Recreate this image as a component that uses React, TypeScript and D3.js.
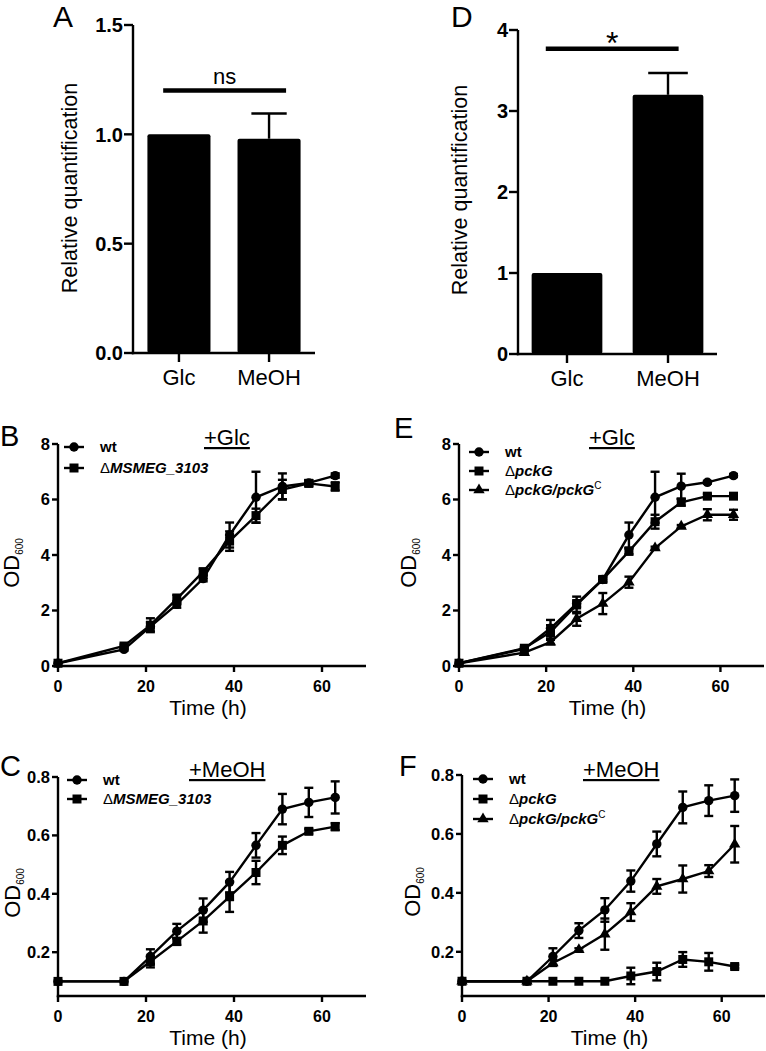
import React from 'react';
import * as d3 from 'd3';

const FONT = "'Liberation Sans', Arial, Helvetica, sans-serif";

// ---------- bar panels ----------
const BAR_CATEGORIES = ['Glc', 'MeOH'];
const A_VALUES = [1.0, 0.98];
const A_ERRORS = [0, 0.115];
const A_TICKS = [0, 0.5, 1.0, 1.5];
const A_SIG_LEVEL = 1.2;
const A_SIG_TEXT = 'ns';

const D_VALUES = [1.0, 3.2];
const D_ERRORS = [0, 0.27];
const D_TICKS = [0, 1, 2, 3, 4];
const D_SIG_LEVEL = 3.77;
const D_SIG_TEXT = '*';

// ---------- growth curves ----------
const TIME = [0, 15, 21, 27, 33, 39, 45, 51, 57, 63];
const TIME_TICKS = [0, 20, 40, 60];
const GLC_TICKS = [0, 2, 4, 6, 8];
const MEOH_TICKS = [0.2, 0.4, 0.6, 0.8];

// B: +Glc, wt vs ΔMSMEG_3103
const B_WT = [0.1, 0.6, 1.42, 2.22, 3.15, 4.72, 6.08, 6.47, 6.6, 6.86];
const B_WT_ERR = [0, 0.05, 0.15, 0.12, 0.1, 0.45, 0.92, 0.47, 0.1, 0.08];
const B_MUT = [0.1, 0.72, 1.47, 2.42, 3.4, 4.5, 5.42, 6.36, 6.58, 6.47];
const B_MUT_ERR = [0, 0.05, 0.25, 0.15, 0.1, 0.35, 0.25, 0.35, 0.1, 0.15];

// C: +MeOH, wt vs ΔMSMEG_3103
const C_WT = [0.1, 0.1, 0.185, 0.272, 0.344, 0.44, 0.566, 0.69, 0.713, 0.73];
const C_WT_ERR = [0, 0, 0.025, 0.025, 0.04, 0.035, 0.042, 0.052, 0.05, 0.055];
const C_MUT = [0.1, 0.1, 0.168, 0.237, 0.307, 0.39, 0.473, 0.566, 0.614, 0.63];
const C_MUT_ERR = [0, 0, 0.02, 0.012, 0.04, 0.052, 0.04, 0.03, 0.008, 0.012];

// E: +Glc, wt / ΔpckG / ΔpckG/pckGC
const E_WT = [0.1, 0.62, 1.36, 2.25, 3.12, 4.72, 6.08, 6.48, 6.62, 6.86];
const E_WT_ERR = [0, 0.05, 0.3, 0.12, 0.1, 0.45, 0.92, 0.45, 0.05, 0.05];
const E_PCK = [0.1, 0.64, 1.22, 2.2, 3.12, 4.13, 5.2, 5.9, 6.12, 6.12];
const E_PCK_ERR = [0, 0.05, 0.25, 0.3, 0.08, 0.1, 0.25, 0.12, 0.08, 0.08];
const E_COMP = [0.1, 0.48, 0.86, 1.7, 2.25, 3.02, 4.25, 5.03, 5.45, 5.45];
const E_COMP_ERR = [0, 0.05, 0.08, 0.25, 0.38, 0.2, 0.05, 0.05, 0.2, 0.18];

// F: +MeOH, wt / ΔpckG / ΔpckG/pckGC
const F_WT = [0.1, 0.1, 0.184, 0.272, 0.342, 0.44, 0.566, 0.69, 0.713, 0.73];
const F_WT_ERR = [0, 0, 0.028, 0.025, 0.04, 0.036, 0.042, 0.054, 0.052, 0.055];
const F_PCK = [0.1, 0.1, 0.1, 0.1, 0.1, 0.118, 0.133, 0.174, 0.166, 0.15];
const F_PCK_ERR = [0, 0, 0, 0, 0, 0.028, 0.03, 0.025, 0.03, 0.006];
const F_COMP = [0.1, 0.1, 0.162, 0.207, 0.26, 0.335, 0.422, 0.447, 0.474, 0.565];
const F_COMP_ERR = [0, 0, 0.01, 0.005, 0.053, 0.03, 0.025, 0.046, 0.02, 0.062];

const LABEL_WT = { delta: false, name: 'wt', italic: false, sup: '' };
const LABEL_MSMEG = { delta: true, name: 'MSMEG_3103', italic: true, sup: '' };
const LABEL_PCK = { delta: true, name: 'pckG', italic: true, sup: '' };
const LABEL_COMP = { delta: true, name: 'pckG/pckG', italic: true, sup: 'C' };

const SHAPES: Record<string, { type: any; size: number }> = {
  circle: { type: d3.symbolCircle, size: 70 },
  square: { type: d3.symbolSquare, size: 81 },
  triangle: { type: d3.symbolTriangle, size: 56 },
};

const SW = 2.4;

function BarPanel(props: any) {
  const { xRange, yRange, yDomain, ticks, fmt, values, errors, outer, sigLevel, sigText, sigFrac, sigFont, sigDy, letter, letterPos, yLabelPos } = props;
  const x = d3.scaleBand().domain(BAR_CATEGORIES).range(xRange).paddingInner(0.3).paddingOuter(outer);
  const y = d3.scaleLinear().domain(yDomain).range(yRange);
  const bw = x.bandwidth();
  const x0 = xRange[0];
  const y0 = y(0);
  const sx1 = (x(BAR_CATEGORIES[0]) as number) + bw * sigFrac[0];
  const sx2 = (x(BAR_CATEGORIES[1]) as number) + bw * sigFrac[1];
  return (
    <g>
      <text x={letterPos[0]} y={letterPos[1]} fontSize={30} fontFamily={FONT}>{letter}</text>
      {BAR_CATEGORIES.map((c, i) => {
        const bx = x(c) as number;
        const cx = bx + bw / 2;
        return (
          <g key={c}>
            <rect x={bx} y={y(values[i])} width={bw} height={y0 - y(values[i])} fill="#000" rx={2} />
            {errors[i] > 0 && (
              <g stroke="#000" strokeWidth={SW}>
                <line x1={cx} x2={cx} y1={y(values[i])} y2={y(values[i] + errors[i])} />
                <line x1={cx - bw * 0.28} x2={cx + bw * 0.28} y1={y(values[i] + errors[i])} y2={y(values[i] + errors[i])} />
              </g>
            )}
            <line x1={cx} x2={cx} y1={y0} y2={y0 + 9} stroke="#000" strokeWidth={SW} />
            <text x={cx} y={y0 + 32} textAnchor="middle" fontSize={22} fontFamily={FONT}>{c}</text>
          </g>
        );
      })}
      <line x1={x0} x2={x0} y1={y(yDomain[1])} y2={y0 + SW / 2} stroke="#000" strokeWidth={SW} />
      <line x1={x0 - SW / 2} x2={xRange[1]} y1={y0} y2={y0} stroke="#000" strokeWidth={SW} />
      {ticks.map((t: number) => (
        <g key={t}>
          <line x1={x0 - 9} x2={x0} y1={y(t)} y2={y(t)} stroke="#000" strokeWidth={SW} />
          <text x={x0 - 10} y={y(t)} dy="0.36em" textAnchor="end" fontSize={20} fontWeight="bold" fontFamily={FONT}>{fmt(t)}</text>
        </g>
      ))}
      <text transform={`translate(${yLabelPos[0]},${yLabelPos[1]}) rotate(-90)`} textAnchor="middle" fontSize={21.5} fontFamily={FONT}>Relative quantification</text>
      <line x1={sx1} x2={sx2} y1={y(sigLevel)} y2={y(sigLevel)} stroke="#000" strokeWidth={4.5} />
      <text x={(sx1 + sx2) / 2} y={y(sigLevel) + sigDy} textAnchor="middle" fontSize={sigFont} fontFamily={FONT}>{sigText}</text>
    </g>
  );
}

function LegendLabel({ label }: any) {
  return (
    <>
      {label.delta && <tspan fontWeight="normal" fontStyle="normal">Δ</tspan>}
      <tspan fontWeight="bold" fontStyle={label.italic ? 'italic' : 'normal'}>{label.name}</tspan>
      {label.sup && <tspan fontSize={10} dy={-6} fontWeight="normal">{label.sup}</tspan>}
    </>
  );
}

function LinePanel(props: any) {
  const { xRange, yRange, yDomain, yTicks, yFmt, series, legendX, legendRows, title, titlePos, letter, letterPos, odPos } = props;
  const x = d3.scaleLinear().domain([0, 70]).range(xRange);
  const y = d3.scaleLinear().domain(yDomain).range(yRange);
  const x0 = xRange[0];
  const yb = yRange[0];
  const line = d3.line<number>().x((_, i) => x(TIME[i])).y((d) => y(d));
  const sym = (shape: string) => d3.symbol().type(SHAPES[shape].type).size(SHAPES[shape].size)() as string;
  return (
    <g>
      <text x={letterPos[0]} y={letterPos[1]} fontSize={29} fontFamily={FONT}>{letter}</text>
      <text x={titlePos[0]} y={titlePos[1]} fontSize={22} fontFamily={FONT} style={{ textDecoration: 'underline' }}>{title}</text>
      {/* axes */}
      <line x1={x0} x2={x0} y1={y(yDomain[1])} y2={yb + SW / 2} stroke="#000" strokeWidth={SW} />
      <line x1={x0 - SW / 2} x2={xRange[1]} y1={yb} y2={yb} stroke="#000" strokeWidth={SW} />
      {yTicks.map((t: number) => (
        <g key={t}>
          <line x1={x0 - 6} x2={x0} y1={y(t)} y2={y(t)} stroke="#000" strokeWidth={SW} />
          <text x={x0 - 8} y={y(t)} dy="0.36em" textAnchor="end" fontSize={16.5} fontWeight="bold" fontFamily={FONT}>{yFmt(t)}</text>
        </g>
      ))}
      {TIME_TICKS.map((t) => (
        <g key={t}>
          <line x1={x(t)} x2={x(t)} y1={yb} y2={yb + 6} stroke="#000" strokeWidth={SW} />
          <text x={x(t)} y={yb + 26} textAnchor="middle" fontSize={16} fontWeight="bold" fontFamily={FONT}>{t}</text>
        </g>
      ))}
      <text x={(xRange[0] + xRange[1]) / 2 - 4} y={yb + 49} textAnchor="middle" fontSize={21} fontFamily={FONT}>Time (h)</text>
      <text transform={`translate(${odPos[0]},${odPos[1]}) rotate(-90)`} textAnchor="middle" fontSize={22} fontFamily={FONT}>
        OD<tspan fontSize={10} dy={4}>600</tspan>
      </text>
      {/* data */}
      {series.map((s: any, k: number) => (
        <path key={'l' + k} d={line(s.values) as string} fill="none" stroke="#000" strokeWidth={SW} />
      ))}
      {series.map((s: any, k: number) => (
        <g key={'e' + k} stroke="#000" strokeWidth={SW}>
          {s.values.map((v: number, i: number) => s.errors[i] > 0 ? (
            <g key={i}>
              <line x1={x(TIME[i])} x2={x(TIME[i])} y1={y(v - s.errors[i])} y2={y(v + s.errors[i])} />
              <line x1={x(TIME[i]) - 4.5} x2={x(TIME[i]) + 4.5} y1={y(v + s.errors[i])} y2={y(v + s.errors[i])} />
              <line x1={x(TIME[i]) - 4.5} x2={x(TIME[i]) + 4.5} y1={y(v - s.errors[i])} y2={y(v - s.errors[i])} />
            </g>
          ) : null)}
        </g>
      ))}
      {series.map((s: any, k: number) => (
        <g key={'m' + k}>
          {s.values.map((v: number, i: number) => (
            <path key={i} d={sym(s.shape)} transform={`translate(${x(TIME[i])},${y(v)})`} fill="#000" />
          ))}
        </g>
      ))}
      {/* legend */}
      {series.map((s: any, k: number) => (
        <g key={'g' + k}>
          <line x1={legendX - 10} x2={legendX + 10} y1={legendRows[k]} y2={legendRows[k]} stroke="#000" strokeWidth={SW} />
          <path d={sym(s.shape)} transform={`translate(${legendX},${legendRows[k]})`} fill="#000" />
          <text x={legendX + 26} y={legendRows[k]} dy="0.36em" fontSize={15} fontFamily={FONT}>
            <LegendLabel label={s.label} />
          </text>
        </g>
      ))}
    </g>
  );
}

export default function App() {
  const f1 = d3.format('.1f');
  const f0 = d3.format('d');
  return (
    <svg width={766} height={1051} style={{ position: 'absolute', left: 0, top: 0, background: '#fff' }}>
      <rect width={766} height={1051} fill="#fff" />
      <BarPanel xRange={[133, 315]} yRange={[353, 25]} yDomain={[0, 1.5]} ticks={A_TICKS} fmt={f1}
        values={A_VALUES} errors={A_ERRORS} outer={0.16} sigLevel={A_SIG_LEVEL} sigText={A_SIG_TEXT}
        sigFrac={[0.25, 0.77]} sigFont={22} sigDy={-7} letter="A" letterPos={[53, 27]} yLabelPos={[77, 188]} />
      <BarPanel xRange={[518, 717]} yRange={[354, 30]} yDomain={[0, 4]} ticks={D_TICKS} fmt={f0}
        values={D_VALUES} errors={D_ERRORS} outer={0.135} sigLevel={D_SIG_LEVEL} sigText={D_SIG_TEXT}
        sigFrac={[0.2, 0.65]} sigFont={32} sigDy={5} letter="D" letterPos={[451, 27]} yLabelPos={[467, 190]} />
      <LinePanel xRange={[58, 366]} yRange={[666, 444]} yDomain={[0, 8]} yTicks={GLC_TICKS} yFmt={f0}
        series={[
          { values: B_WT, errors: B_WT_ERR, shape: 'circle', label: LABEL_WT },
          { values: B_MUT, errors: B_MUT_ERR, shape: 'square', label: LABEL_MSMEG },
        ]}
        legendX={74} legendRows={[447, 468]} title="+Glc" titlePos={[204, 445]} letter="B" letterPos={[0, 446]} odPos={[19, 563]} />
      <LinePanel xRange={[459, 764]} yRange={[666, 444]} yDomain={[0, 8]} yTicks={GLC_TICKS} yFmt={f0}
        series={[
          { values: E_WT, errors: E_WT_ERR, shape: 'circle', label: LABEL_WT },
          { values: E_PCK, errors: E_PCK_ERR, shape: 'square', label: LABEL_PCK },
          { values: E_COMP, errors: E_COMP_ERR, shape: 'triangle', label: LABEL_COMP },
        ]}
        legendX={479} legendRows={[452, 471, 490]} title="+Glc" titlePos={[589, 445]} letter="E" letterPos={[394, 438]} odPos={[416, 563]} />
      <LinePanel xRange={[58, 366]} yRange={[996, 777]} yDomain={[0.05, 0.8]} yTicks={MEOH_TICKS} yFmt={f1}
        series={[
          { values: C_WT, errors: C_WT_ERR, shape: 'circle', label: LABEL_WT },
          { values: C_MUT, errors: C_MUT_ERR, shape: 'square', label: LABEL_MSMEG },
        ]}
        legendX={77} legendRows={[780, 799]} title="+MeOH" titlePos={[189, 777]} letter="C" letterPos={[0, 776]} odPos={[20, 893]} />
      <LinePanel xRange={[462, 765]} yRange={[996, 775]} yDomain={[0.05, 0.8]} yTicks={MEOH_TICKS} yFmt={f1}
        series={[
          { values: F_WT, errors: F_WT_ERR, shape: 'circle', label: LABEL_WT },
          { values: F_PCK, errors: F_PCK_ERR, shape: 'square', label: LABEL_PCK },
          { values: F_COMP, errors: F_COMP_ERR, shape: 'triangle', label: LABEL_COMP },
        ]}
        legendX={483} legendRows={[779, 799, 819]} title="+MeOH" titlePos={[583, 777]} letter="F" letterPos={[399, 776]} odPos={[420, 892]} />
    </svg>
  );
}
